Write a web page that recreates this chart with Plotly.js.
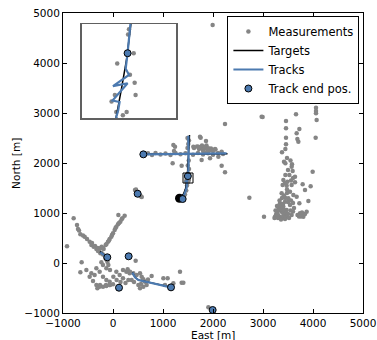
<!DOCTYPE html>
<html>
<head>
<meta charset="utf-8">
<script src="https://cdn.plot.ly/plotly-3.0.1.min.js"></script>
<style>html,body{margin:0;padding:0;background:#fff;}#chart{width:377px;height:340px;}</style>
</head>
<body>
<div id="chart"></div>
<script>
var measLowerLeftX = [-787,-720,-700,-653,-567,-520,-467,-433,-387,-333,-300,-253,-200,-160,-127,-93,-60,7,73,-680,-600,-420,-360,-280,-230,-310,-150,-110,
  233,187,147,100,67,33,0,-33,-67,-100,-147,-187,-227,-260,120,50,-20,-80,-130,-200,
  -920,-627,-533,-653,-467,-400,-333,-267,-200,-133,-67,0,-433,-367,-333,-267,-200,-133,-67,-233,-200,-133,
  67,200,133,267,333,200,453,293,340,407,473,540,573,607,640,673,507,540,607,773,1007,1093,1340,1373,1407,1040,1207,373,307,
  -313,-260,-140,-60,107,173,250,420,560,700,150,100,1907];
var measLowerLeftY = [893,760,680,573,527,480,427,360,327,280,240,193,170,140,60,-40,-140,-273,-340,650,550,400,340,250,200,300,90,20,
  947,893,827,773,727,660,593,527,480,427,360,280,327,293,800,700,560,450,380,300,
  333,13,-140,-187,-273,-360,-440,-473,-473,-460,-440,-427,-207,-240,-107,-173,-273,-340,-373,13,-40,-107,
  -173,-140,-240,-173,-207,-307,47,-127,-173,-207,-240,-207,-273,-327,-373,-440,-440,-507,-473,-260,-307,-307,-173,-393,-393,-440,-407,-340,-340,
  -507,-440,-440,-440,960,873,-400,-380,-420,-330,-380,-520,-887];

var measCenterX = [700,780,850,950,1050,1150,1250,1350,1450,1600,1700,1800,1900,2000,2100,2200,
  1620,1680,1720,1760,1800,1850,1890,1930,1960,2000,2050,1780,1870,
  1490,1520,1505,1490,1515,1495,1520,1480,1465,1440,1410,
  440,455,470,480,500,515,530,545,560,575,460,490,520,
  1753,1860,1240,1220,1607,1707,1840,1907,1973,2040,2173,1940,2107,2173,2240,1193,1373,1773,1807,1873,1740,1207,
  1498,1500,1510,1475,1502,1512,1514,1470,1463,1495,1487,1473,1340,1320];
var measCenterY = [2195,2160,2200,2170,2190,2160,2200,2175,2195,2165,2200,2170,2195,2165,2200,2180,
  2300,2330,2280,2310,2260,2300,2270,2250,2290,2240,2270,2350,2350,
  2500,2450,2380,2300,2050,1950,1880,1550,1450,1370,1320,
  1460,1450,1430,1415,1400,1380,1360,1345,1330,1320,1470,1390,1370,
  2507,2440,2327,2240,2327,2327,2327,2293,2260,2280,2227,2093,2127,1947,1813,1993,1947,2060,2227,2213,2527,2360,
  1778,1789,1738,1716,1692,1675,1649,1649,1635,1613,1606,1613,1300,1280];

var measRightX = [4060,4060,4060,4073,4053,3660,2993,3460,3460,3727,3673,3460,3687,3707,3460,3447,3380,
  3420,3447,3580,3573,3593,3527,3447,3640,3993,3407,3487,3393,3473,3573,3640,3793,3953,3840,3373,3540,3607,3673,3507,
  3440,3340,3307,3407,3473,3540,3373,3273,3240,3340,3440,3573,3740,3807,3873,3907,3727,3020,2727,
  3260,3300,3290,3250,3320,3360,3400,3420,3460,3500,3480,3400,3300,3360,3440,3520,3230,3280,3350,3400,3450,3380,3420,3480,3330,
  3760,3790,3840,3780,3720,3690,3600,3620,3550,3500,3560,3600,3480,3440,3560,3600,3500,3550,3480,
  1993,2240,2973];
var measRightY = [3107,3040,2993,2860,2507,2973,2920,2840,2693,2680,2593,2507,2480,2427,2373,2280,2213,
  2027,1993,1973,1927,1840,1760,1760,1727,1827,1660,1627,1560,1547,1560,1613,1573,1533,1460,1393,1427,1360,1327,1293,
  1227,1193,1107,1127,1060,1160,1027,993,927,927,960,960,993,927,1027,1240,1193,927,1307,
  960,960,1020,1050,1060,1080,1000,1060,1010,980,930,920,900,870,880,900,900,1140,1150,1180,1300,1300,1350,1400,1250,
  930,960,980,1010,930,960,1030,1100,1050,1220,1250,1200,1470,1600,1650,1700,1860,2050,2100,
  4760,2780,2927];

var measX = measLowerLeftX.concat(measCenterX, measRightX);
var measY = measLowerLeftY.concat(measCenterY, measRightY);

// ---- Targets (true paths), segments separated by null ----
var targetX = [600,1000,1500,2000,2290, null,
  1530,1515,1504,1500,1495,1484,1472,1450,1410,1330, null,
  -260,-190,-114, null,
  390,440,507,707,900,1160, null,
  445,493];
var targetY = [2175,2177,2180,2182,2183, null,
  2560,2200,1800,1768,1726,1662,1600,1480,1380,1295, null,
  226,165,114, null,
  -190,-285,-338,-385,-418,-485, null,
  1435,1385];
var targetBlobX = [1330];
var targetBlobY = [1295];

// ---- Tracks (estimates), segments separated by null ----
var trackX = [607,900,1200,1500,1800,2100,2273, null,
  1507,1512,1520,1512,1503,1500,1497, null,
  1497,1493,1500,1466,1497,1465,1480,1477,1473,1479,1470,1440,1393, null,
  -253,-190,-114, null,
  387,440,507,707,900,1160, null,
  450,493];
var trackY = [2173,2178,2175,2180,2185,2190,2193, null,
  2547,2350,2180,2000,1800,1775,1738, null,
  1738,1705,1692,1668,1674,1637,1634,1616,1602,1590,1493,1400,1280, null,
  213,160,114, null,
  -193,-287,-340,-387,-420,-487, null,
  1430,1385];

// ---- Track end positions ----
var endX = [607,1497,1393,493,-114,313,120,1160,1993];
var endY = [2173,1738,1280,1385,114,134,-494,-487,-940];

// ---- Axes ----
var tickVals = [-1000,0,1000,2000,3000,4000,5000];
var tickText = ['\u22121000','0','1000','2000','3000','4000','5000'];
var insetXRange = [1400,1600];
var insetYRange = [1600,1800];

var FONT = 'DejaVu Sans, sans-serif';
var GRAY = '#858585';
var BLUE = '#4C7AB0';

function makeTraces(xa, ya, legend) {
  return [
    {type:'scatter', mode:'markers', x:measX, y:measY, xaxis:xa, yaxis:ya, name:'Measurements',
      legendgroup:'m', showlegend:legend, marker:{color:GRAY, size:4.5}},
    {type:'scatter', mode:'lines', x:targetX, y:targetY, xaxis:xa, yaxis:ya, name:'Targets',
      legendgroup:'t', showlegend:legend, line:{color:'#000', width:1.5}, connectgaps:false},
    {type:'scatter', mode:'markers', x:targetBlobX, y:targetBlobY, xaxis:xa, yaxis:ya, name:'Targets',
      legendgroup:'t', showlegend:false, marker:{color:'#000', size:9}},
    {type:'scatter', mode:'lines', x:trackX, y:trackY, xaxis:xa, yaxis:ya, name:'Tracks',
      legendgroup:'k', showlegend:legend, line:{color:BLUE, width:2.2}, connectgaps:false},
    {type:'scatter', mode:'markers', x:endX, y:endY, xaxis:xa, yaxis:ya, name:'Track end pos.',
      legendgroup:'e', showlegend:legend, marker:{color:BLUE, size:7, line:{color:'#000', width:1}}}
  ];
}

var data = makeTraces('x','y',true).concat(makeTraces('x2','y2',false));

var axisCommon = {showgrid:false, zeroline:false, showline:true, linecolor:'#000', linewidth:1,
  mirror:'ticks', ticks:'inside', ticklen:4, tickwidth:1, tickcolor:'#000',
  tickfont:{family:FONT, size:10.5, color:'#000'}, tickmode:'array', tickvals:tickVals, ticktext:tickText};

var layout = {
  width:377, height:340,
  margin:{l:63, r:14, t:13, b:27, pad:0},
  paper_bgcolor:'#fff', plot_bgcolor:'#fff',
  font:{family:FONT, size:10.5, color:'#000'},
  xaxis: Object.assign({}, axisCommon, {range:[-1000,5000], domain:[0,1]}),
  yaxis: Object.assign({}, axisCommon, {range:[-1000,5000], domain:[0,1]}),
  xaxis2:{domain:[0.063,0.377], range:insetXRange, anchor:'y2', showticklabels:false, ticks:'',
    showgrid:false, zeroline:false, showline:true, mirror:true, linecolor:'#606060', linewidth:1.5},
  yaxis2:{domain:[0.65,0.963], range:insetYRange, anchor:'x2', showticklabels:false, ticks:'',
    showgrid:false, zeroline:false, showline:true, mirror:true, linecolor:'#606060', linewidth:1.5},
  showlegend:true,
  legend:{x:0.988, y:0.99, xanchor:'right', yanchor:'top', bgcolor:'#fff', bordercolor:'#000', borderwidth:1,
    font:{family:FONT, size:11.5, color:'#000'}, itemwidth:30, tracegroupgap:0},
  shapes:[
    {type:'rect', xref:'x', yref:'y', x0:insetXRange[0], x1:insetXRange[1], y0:insetYRange[0], y1:insetYRange[1],
      line:{color:'#000', width:1}, fillcolor:'rgba(0,0,0,0)'}
  ],
  annotations:[
    {text:'East [m]', xref:'paper', yref:'paper', x:0.5, y:-0.072, xanchor:'center', yanchor:'middle',
      showarrow:false, font:{family:FONT, size:10.5, color:'#000'}},
    {text:'North [m]', xref:'paper', yref:'paper', x:-0.157, y:0.5, xanchor:'center', yanchor:'middle',
      textangle:-90, showarrow:false, font:{family:FONT, size:10.5, color:'#000'}}
  ]
};

Plotly.newPlot('chart', data, layout, {displayModeBar:false, staticPlot:true});
</script>
</body>
</html>
